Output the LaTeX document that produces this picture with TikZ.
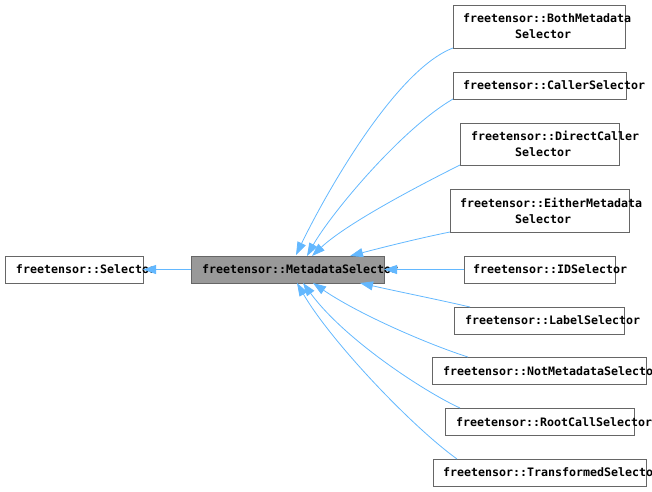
\documentclass[tikz,border=0pt]{standalone}
\usepackage{fontspec}
\newfontfamily\dmono{DejaVu Sans Mono}
\usetikzlibrary{arrows.meta,calc}
\definecolor{edgeblue}{HTML}{63B8FF}
\definecolor{boxborder}{HTML}{666666}
\definecolor{basefill}{HTML}{999999}
\begin{document}
\begin{tikzpicture}[x=1pt,y=-1pt,
  box/.style={draw=boxborder, line width=1pt, fill=white, inner sep=0pt, outer sep=0pt},
  lbl/.style={inner sep=0pt, outer sep=0pt, anchor=base west, font=\dmono\bfseries\fontsize{11.63pt}{14pt}\selectfont},
  inh/.style={draw=edgeblue, line width=0.8pt, -{Triangle[length=13pt,width=9pt]}, fill=none}
]
\useasboundingbox (0,0) rectangle (652,491);
% boxes
\node[box, minimum width=138pt, minimum height=27pt] (sel) at (74,269.5) {};
\node[box, fill=basefill, minimum width=193pt, minimum height=27pt] (meta) at (287.5,269.5) {};
\node[box, minimum width=172pt, minimum height=43pt] (both) at (539,26.5) {};
\node[box, minimum width=173pt, minimum height=27pt] (caller) at (539.5,85.5) {};
\node[box, minimum width=159pt, minimum height=42pt] (direct) at (539.5,144) {};
\node[box, minimum width=179pt, minimum height=43pt] (either) at (539.5,210.5) {};
\node[box, minimum width=151pt, minimum height=27pt] (id) at (539.5,269.5) {};
\node[box, minimum width=170pt, minimum height=27pt] (label) at (539,320.5) {};
\node[box, minimum width=214pt, minimum height=27pt] (notm) at (539,370.5) {};
\node[box, minimum width=189pt, minimum height=27pt] (root) at (539.5,421.5) {};
\node[box, minimum width=213pt, minimum height=27pt] (trans) at (539.5,472.5) {};
% labels
\node[lbl] (selT) at (16,273.5) {freetensor::Selector};
\node[lbl] (metaT) at (202,273.5) {freetensor::MetadataSelector};
\node[lbl] (bothT1) at (463,22.5) {freetensor::BothMetadata};
\node[lbl] (bothT2) at (515,38.5) {Selector};
\node[lbl] (callerT) at (463,89.5) {freetensor::CallerSelector};
\node[lbl] (directT1) at (471,140.5) {freetensor::DirectCaller};
\node[lbl] (directT2) at (515,156.5) {Selector};
\node[lbl] (eitherT1) at (460,207.5) {freetensor::EitherMetadata};
\node[lbl] (eitherT2) at (515,223.5) {Selector};
\node[lbl] (idT) at (473,273.5) {freetensor::IDSelector};
\node[lbl] (labelT) at (465,324.5) {freetensor::LabelSelector};
\node[lbl] (notmT) at (443,375.5) {freetensor::NotMetadataSelector};
\node[lbl] (rootT) at (456,426.5) {freetensor::RootCallSelector};
\node[lbl] (transT) at (443,476.5) {freetensor::TransformedSelector};
% edges
\draw[inh] (meta.west) -- (sel.east);
\draw[inh] (both.south west) .. controls (395,70) and (325,195) .. ($(meta.north west)+(105,-1)$);
\draw[inh] (caller.south west) .. controls (400,130) and (330,215) .. ($(meta.north west)+(116,0)$);
\draw[inh] (direct.south west) .. controls (410,190) and (345,225) .. ($(meta.north west)+(121,0)$);
\draw[inh] (either.south west) .. controls (420,238) and (380,248) .. ($(meta.north west)+(159,0)$);
\draw[inh] (id.west) -- (meta.east);
\draw[inh] ($(label.north west)+(16,0)$) .. controls (440,300) and (400,292) .. ($(meta.south west)+(169,0)$);
\draw[inh] ($(notm.north west)+(36,0)$) .. controls (430,345) and (360,315) .. ($(meta.south west)+(122,0)$);
\draw[inh] ($(root.north west)+(15,0)$) .. controls (425,392) and (345,340) .. ($(meta.south west)+(112,0)$);
\draw[inh] ($(trans.north west)+(24,0)$) .. controls (410,425) and (330,340) .. ($(meta.south west)+(106,0)$);
\end{tikzpicture}
\end{document}
